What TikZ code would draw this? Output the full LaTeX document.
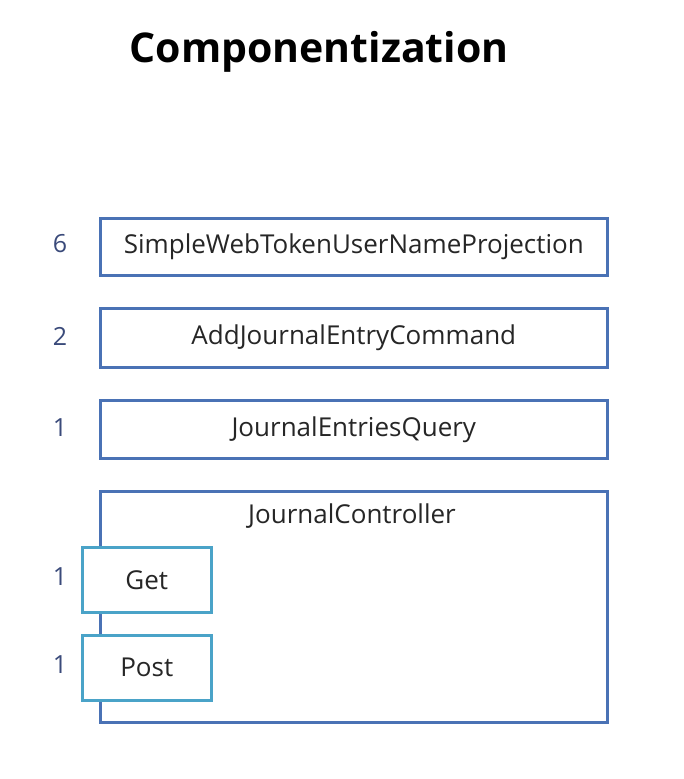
\documentclass[tikz,border=0pt]{standalone}
\usepackage{fontspec}
\setmainfont{Open Sans}
\newfontfamily\titlefont{Open Sans}
\definecolor{boxblue}{HTML}{4A72B5}
\definecolor{tealblue}{HTML}{4AA3C8}
\definecolor{numblue}{HTML}{3A4A7A}
\begin{document}
\begin{tikzpicture}[x=1pt,y=-1pt,
  comp/.style={draw=boxblue,line width=2.6pt,fill=white,inner sep=0pt},
  meth/.style={draw=tealblue,line width=2.6pt,fill=white,inner sep=0pt},
  lbl/.style={font=\fontsize{26}{30}\selectfont,text=black!85},
  num/.style={font=\fontsize{25}{30}\selectfont,text=numblue}]
\useasboundingbox[fill=white] (0,0) rectangle (683,779);
\node[font=\titlefont\bfseries\fontsize{41}{46}\selectfont] (title) at (319,52) {Componentization};
% boxes
\node[comp,minimum width=507pt,minimum height=57pt,anchor=north west] (b1) at (99,217) {};
\node[lbl] (t1) at (b1.center) {SimpleWebTokenUserNameProjection};
\node[comp,minimum width=507pt,minimum height=59pt,anchor=north west] (b2) at (99,307) {};
\node[lbl] (t2) at (b2.center) {AddJournalEntryCommand};
\node[comp,minimum width=507pt,minimum height=58pt,anchor=north west] (b3) at (99,399) {};
\node[lbl] (t3) at (b3.center) {JournalEntriesQuery};
\node[comp,minimum width=507pt,minimum height=231pt,anchor=north west] (b4) at (99,490) {};
\node[lbl] (t4) at (352,516) {JournalController};
\node[meth,minimum width=129pt,minimum height=65pt,anchor=north west] (get) at (81,546) {};
\node[lbl] (tg) at (get.center) {Get};
\node[meth,minimum width=129pt,minimum height=65pt,anchor=north west] (post) at (81,634) {};
\node[lbl] (tp) at (post.center) {Post};
% numbers
\node[num] (n1) at (60,244) {6};
\node[num] (n2) at (60,336) {2};
\node[num] (n3) at (60,428) {1};
\node[num] (n4) at (60,577) {1};
\node[num] (n5) at (60,665) {1};
\end{tikzpicture}
\end{document}
